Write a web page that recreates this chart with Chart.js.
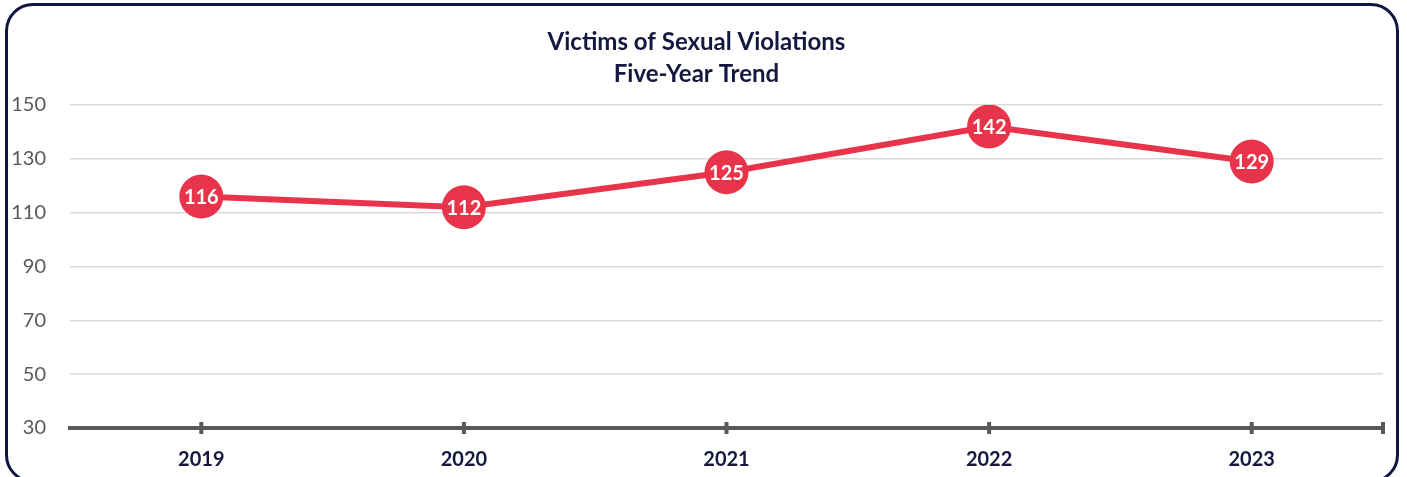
<!DOCTYPE html>
<html>
<head>
<meta charset="utf-8">
<script src="https://cdn.jsdelivr.net/npm/chart.js@4/dist/chart.umd.min.js"></script>
<style>
  html, body { margin: 0; padding: 0; background: #ffffff; }
  #wrap { position: absolute; left: 0; top: 0; width: 1407px; height: 477px; }
  #frame { position: absolute; left: 5px; top: 3px; width: 1388px; height: 474px;
           border: 3px solid #111540; border-radius: 28px; pointer-events: none; box-sizing: content-box; }
</style>
</head>
<body>
<div id="wrap"><canvas id="c" width="1407" height="477"></canvas></div>
<div id="frame"></div>
<script>
const categories = ['2019', '2020', '2021', '2022', '2023'];
const victims = [116, 112, 125, 142, 129];
const titleLines = ['Victims of Sexual Violations', 'Five-Year Trend'];
const yMin = 30, yMax = 150, yStep = 20;

const RED = '#e8344a';
const NAVY = '#14173f';

const axisTicks = {
  id: 'axisTicks',
  afterDraw(chart) {
    const ctx = chart.ctx, x = chart.scales.x, y0 = chart.chartArea.bottom;
    const xs = categories.map((_, i) => x.getPixelForValue(i));
    xs.push(chart.chartArea.right);
    ctx.save();
    ctx.strokeStyle = '#595959';
    ctx.lineWidth = 4;
    xs.forEach(px => {
      ctx.beginPath();
      ctx.moveTo(px, y0 - 6);
      ctx.lineTo(px, y0 + 6);
      ctx.stroke();
    });
    ctx.restore();
  }
};

const pointLabels = {
  id: 'pointLabels',
  afterDatasetsDraw(chart) {
    const ctx = chart.ctx;
    const meta = chart.getDatasetMeta(0);
    ctx.save();
    ctx.fillStyle = '#ffffff';
    ctx.font = 'bold 20px Lato';
    ctx.textAlign = 'center';
    ctx.textBaseline = 'middle';
    meta.data.forEach((pt, i) => {
      ctx.fillText(String(victims[i]), pt.x, pt.y + 1);
    });
    ctx.restore();
  }
};

new Chart(document.getElementById('c'), {
  type: 'line',
  data: {
    labels: categories,
    datasets: [{
      data: victims,
      borderColor: RED,
      backgroundColor: RED,
      borderWidth: 6,
      pointRadius: 22,
      pointBackgroundColor: RED,
      pointBorderWidth: 0,
      tension: 0
    }]
  },
  options: {
    responsive: false,
    animation: false,
    layout: { padding: { left: 10, right: 24, top: 0, bottom: 0 } },
    plugins: {
      legend: { display: false },
      tooltip: { enabled: false },
      title: {
        display: true,
        text: titleLines,
        color: NAVY,
        font: { family: 'Lato', size: 24, weight: 'bold', lineHeight: 1.333 },
        padding: { top: 26, bottom: 15 }
      }
    },
    scales: {
      x: {
        offset: true,
        grid: { display: false, offset: false, drawTicks: false },
        border: { display: true, color: '#595959', width: 4 },
        ticks: { color: NAVY, font: { family: 'Lato', size: 20, weight: 'bold' }, padding: 20 },
        afterFit(s) { s.height = 49; }
      },
      y: {
        min: yMin, max: yMax,
        grid: { color: '#d9d9d9', lineWidth: 1.5, drawTicks: false },
        border: { display: false },
        ticks: { stepSize: yStep, color: '#595959', font: { family: 'Lato', size: 20 }, padding: 24 },
        afterFit(s) { s.width = 60; }
      }
    }
  },
  plugins: [axisTicks, pointLabels]
});
</script>
</body>
</html>
